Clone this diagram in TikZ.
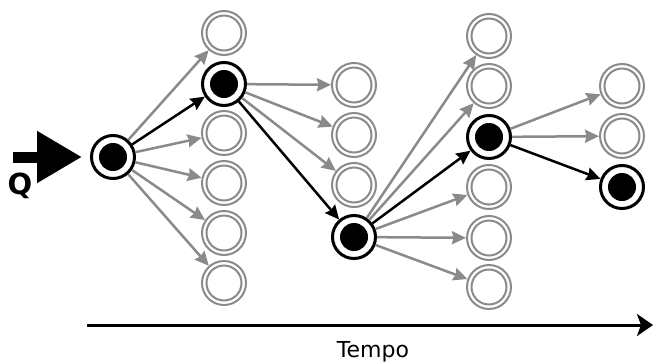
\documentclass[tikz,border=0pt]{standalone}
\usepackage{fontspec}
\setmainfont{DejaVu Sans}
\usetikzlibrary{arrows.meta}
\definecolor{ringgray}{HTML}{8A8A8A}
\begin{document}
\begin{tikzpicture}[x=1pt,y=-1pt,
  ring/.style={circle, draw=ringgray, line width=2pt, minimum size=44pt, inner sep=0pt, outer sep=1pt, fill=white,
    path picture={\draw[ringgray, line width=2pt] (path picture bounding box.center) circle (17.5pt);}},
  state/.style={circle, draw=black, line width=3pt, minimum size=43pt, inner sep=0pt, outer sep=1.5pt, fill=white,
    path picture={\fill[black] (path picture bounding box.center) circle (14pt);}},
  gedge/.style={draw=ringgray, line width=2.5pt, -{Stealth[length=14pt,width=13pt,inset=1.5pt]}},
  bedge/.style={draw=black, line width=2.5pt, -{Stealth[length=14pt,width=13pt,inset=1.5pt]}},
]
\useasboundingbox (0,0) rectangle (654,362);
% nodes
\node[state] (q) at (113,157) {};
\node[ring]  (a1) at (224,33) {};
\node[state] (a2) at (224,84) {};
\node[ring]  (a3) at (224,133) {};
\node[ring]  (a4) at (224,183) {};
\node[ring]  (a5) at (224,233) {};
\node[ring]  (a6) at (224,283) {};
\node[ring]  (b1) at (354,85) {};
\node[ring]  (b2) at (354,135) {};
\node[ring]  (b3) at (354,185) {};
\node[state] (b4) at (354,237) {};
\node[ring]  (c1) at (489,36) {};
\node[ring]  (c2) at (489,86) {};
\node[state] (c3) at (489,137) {};
\node[ring]  (c4) at (489,187) {};
\node[ring]  (c5) at (489,238) {};
\node[ring]  (c6) at (489,287) {};
\node[ring]  (d1) at (622,86) {};
\node[ring]  (d2) at (622,136) {};
\node[state] (d3) at (622,187) {};
% edges
\foreach \t in {a1,a3,a4,a5,a6} \draw[gedge] (q) -- (\t);
\draw[bedge] (q) -- (a2);
\foreach \t in {b1,b2,b3} \draw[gedge] (a2) -- (\t);
\draw[bedge] (a2) -- (b4);
\foreach \t in {c1,c2,c4,c5,c6} \draw[gedge] (b4) -- (\t);
\draw[bedge] (b4) -- (c3);
\foreach \t in {d1,d2} \draw[gedge] (c3) -- (\t);
\draw[bedge] (c3) -- (d3);
% input arrow
\coordinate (qin) at (13,157);
\draw[line width=11pt, -{Triangle[length=45pt,width=49pt]}, shorten >=8pt] (qin) -- (q);
\node[font=\fontsize{29}{33}\selectfont\bfseries, anchor=base] (ql) at (20,194) {Q};
% time axis
\coordinate (ta) at (87,325);
\coordinate (tb) at (653,325);
\draw[line width=3pt, -{Stealth[length=16pt,width=22pt,inset=4pt]}] (ta) -- (tb);
\node[font=\fontsize{22}{26}\selectfont, anchor=base] (tl) at (373,357) {Tempo};
\end{tikzpicture}
\end{document}
